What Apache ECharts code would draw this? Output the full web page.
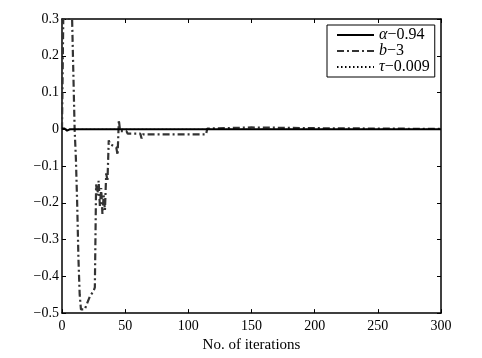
<!DOCTYPE html>
<html>
<head>
<meta charset="utf-8">
<script src="https://cdn.jsdelivr.net/npm/echarts@6/dist/echarts.min.js"></script>
<style>html,body{margin:0;padding:0;background:#fff;}#c{width:482px;height:358px;}</style>
</head>
<body>
<div id="c"></div>
<script>
// ---- data ----
const xTicks = [0, 50, 100, 150, 200, 250, 300];
const yTicks = [-0.5, -0.4, -0.3, -0.2, -0.1, 0, 0.1, 0.2, 0.3];

const iterA = [0, 1, 2, 3, 4, 5, 6, 8, 300];
const valA  = [0.002, 0.002, 0.002, 0.001, -0.004, -0.004, 0.0, 0.0, 0.0];

const iterB = [0, 1, 2, 5, 8, 9, 10, 11, 12, 13, 14, 15, 18, 22, 25, 26, 27, 28, 29, 30, 31, 32, 33, 34, 35, 36, 37, 38, 43, 44, 45, 46, 51, 52, 62, 63, 64, 114, 115, 116, 150, 200, 250, 300];
const valB  = [0.0, 0.3, 0.3, 0.3, 0.3, 0.3, 0.0, -0.08, -0.2, -0.35, -0.45, -0.49, -0.49, -0.455, -0.44, -0.43, -0.15, -0.18, -0.14, -0.21, -0.16, -0.23, -0.18, -0.22, -0.12, -0.14, -0.03, -0.04, -0.05, -0.07, 0.025, -0.005, -0.005, -0.012, -0.012, -0.025, -0.014, -0.014, 0.002, 0.005, 0.005, 0.003, 0.002, 0.001];

const iterT = [0, 1, 3, 5, 8, 300];
const valT  = [0.0, 0.003, 0.001, -0.002, 0.0, 0.0];

const seriesNames = ['α−0.94', 'b−3', 'τ−0.009'];
const legendRich = ['{i|α}{n|−0.94}', '{i|b}{n|−3}', '{i|τ}{n|−0.009}'];

const zip = (xs, ys) => xs.map((x, i) => [x, ys[i]]);
const serif = '"Liberation Serif", "DejaVu Serif", serif';
const fmtY = v => (Math.abs(v) < 1e-9 ? '0' : String(+v.toFixed(1)).replace('-', '−'));

const chart = echarts.init(document.getElementById('c'), null, {renderer: 'canvas'});
const axisCommon = {
  type: 'value',
  axisLine: {show: true, onZero: false, lineStyle: {color: '#000', width: 1.5}},
  axisTick: {show: true, inside: true, length: 4, lineStyle: {color: '#000', width: 1}},
  splitLine: {show: false}
};
chart.setOption({
  backgroundColor: '#fff',
  animation: false,
  grid: {left: 62, right: 41, top: 19, bottom: 41, containLabel: false},
  legend: {
    orient: 'vertical',
    left: 327, top: 25,
    padding: [2, 5, 2, 9],
    itemGap: 0,
    itemWidth: 37, itemHeight: 14,
    borderColor: '#000', borderWidth: 1, borderRadius: 0,
    backgroundColor: '#fff',
    itemStyle: {opacity: 0},
    data: seriesNames,
    formatter: name => legendRich[seriesNames.indexOf(name)],
    textStyle: {
      fontFamily: serif, fontSize: 16, color: '#000', lineHeight: 14,
      rich: {
        i: {fontFamily: serif, fontStyle: 'italic', fontSize: 16, color: '#000', lineHeight: 14},
        n: {fontFamily: serif, fontSize: 16, color: '#000', lineHeight: 14}
      }
    }
  },
  xAxis: [
    Object.assign({}, axisCommon, {
      min: 0, max: 300, interval: 50, position: 'bottom',
      name: 'No. of iterations', nameLocation: 'middle', nameGap: 23,
      nameTextStyle: {fontFamily: serif, fontSize: 15, color: '#000'},
      axisLabel: {fontFamily: serif, fontSize: 14, color: '#000', margin: 6,
                  formatter: v => String(v)}
    }),
    Object.assign({}, axisCommon, {
      min: 0, max: 300, interval: 50, position: 'top', axisLabel: {show: false}
    })
  ],
  yAxis: [
    Object.assign({}, axisCommon, {
      min: -0.5, max: 0.3, interval: 0.1, position: 'left',
      axisLabel: {fontFamily: serif, fontSize: 14, color: '#000', margin: 3, formatter: fmtY}
    }),
    Object.assign({}, axisCommon, {
      min: -0.5, max: 0.3, interval: 0.1, position: 'right', axisLabel: {show: false}
    })
  ],
  series: [
    {
      name: seriesNames[0], type: 'line', data: zip(iterA, valA), symbol: 'none',
      lineStyle: {color: '#000', width: 2, type: 'solid'}, itemStyle: {color: '#000'}, z: 3
    },
    {
      name: seriesNames[1], type: 'line', data: zip(iterB, valB), symbol: 'none',
      lineStyle: {color: '#333', width: 2.2, type: [7, 3, 2, 3]}, itemStyle: {color: '#333'}, z: 2
    },
    {
      name: seriesNames[2], type: 'line', data: zip(iterT, valT), symbol: 'none',
      lineStyle: {color: '#000', width: 1, type: [1.5, 2.5]}, itemStyle: {color: '#000'}, z: 1
    }
  ]
});
</script>
</body>
</html>
